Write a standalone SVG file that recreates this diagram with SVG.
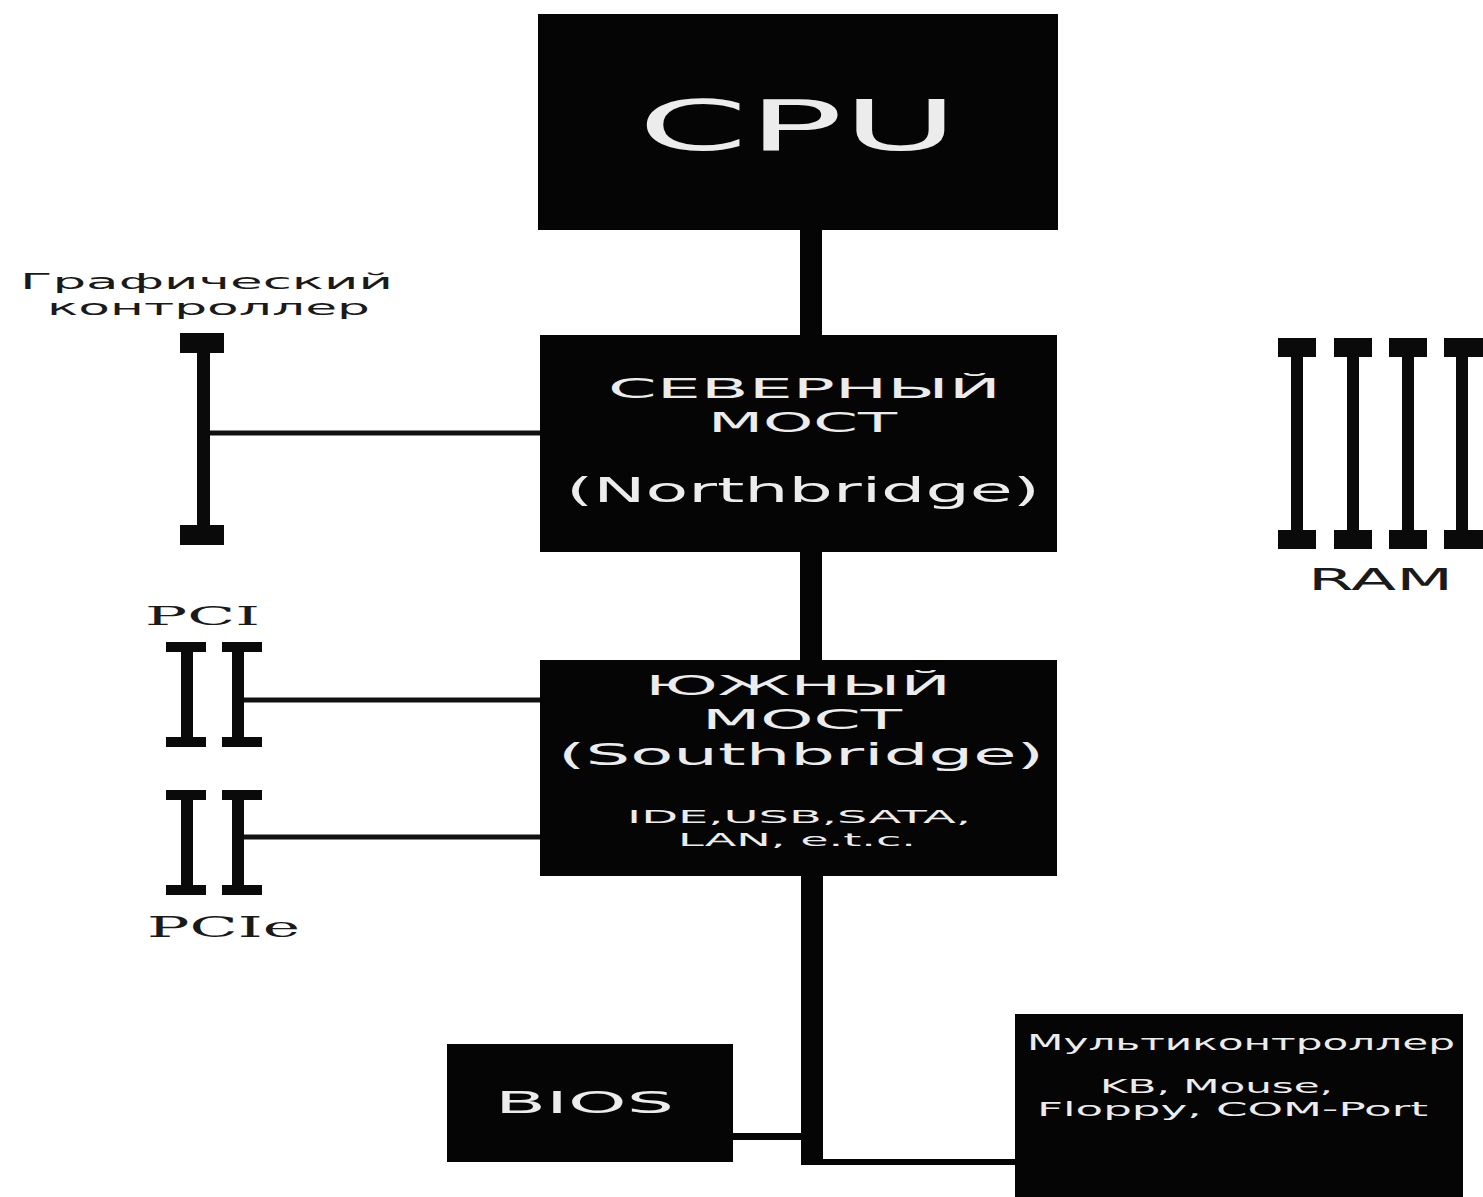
<svg xmlns="http://www.w3.org/2000/svg" width="1483" height="1197" viewBox="0 0 1483 1197">
<style>
.box{fill:#050505}
.wt{fill:#ececec;font-family:"DejaVu Sans","Verdana",sans-serif}
.bt{fill:#1a1a1a;font-family:"DejaVu Sans","Verdana",sans-serif}
.st{fill:#1a1a1a;font-family:"DejaVu Serif","Liberation Serif",serif}
.bus{stroke:#050505;stroke-width:22;fill:none}
.thin{stroke:#111;stroke-width:5;fill:none}
.slot{fill:#0a0a0a}
</style>
<rect width="1483" height="1197" fill="#ffffff"/>
<g id="connectors">
<line class="bus" x1="811" y1="228" x2="811" y2="338"/>
<line class="bus" x1="811" y1="550" x2="811" y2="662"/>
<line class="bus" x1="812" y1="874" x2="812" y2="1165"/>
<line class="thin" x1="203" y1="433" x2="541" y2="433"/>
<line class="thin" x1="244" y1="700" x2="541" y2="700"/>
<line class="thin" x1="244" y1="837" x2="541" y2="837"/>
<line x1="731" y1="1136.5" x2="802" y2="1136.5" stroke="#050505" stroke-width="7"/>
<line x1="812" y1="1162" x2="1017" y2="1162" stroke="#050505" stroke-width="6"/>
</g>
<g id="cpu">
<rect class="box" x="538" y="14" width="520" height="216"/>
<text class="wt" x="638" y="150" font-size="69" textLength="320" lengthAdjust="spacingAndGlyphs">CPU</text>
</g>
<g id="northbridge">
<rect class="box" x="540" y="335" width="517" height="217"/>
<text class="wt" x="608" y="398" font-size="27" textLength="393" lengthAdjust="spacingAndGlyphs">СЕВЕРНЫЙ</text>
<text class="wt" x="708" y="432" font-size="27" textLength="189" lengthAdjust="spacingAndGlyphs">МОСТ</text>
<text class="wt" x="566" y="502" font-size="33" textLength="474" lengthAdjust="spacingAndGlyphs">(Northbridge)</text>
</g>
<g id="southbridge">
<rect class="box" x="540" y="660" width="517" height="216"/>
<text class="wt" x="645" y="695" font-size="27" textLength="306" lengthAdjust="spacingAndGlyphs">ЮЖНЫЙ</text>
<text class="wt" x="702" y="729" font-size="26" textLength="200" lengthAdjust="spacingAndGlyphs">МОСТ</text>
<text class="wt" x="558" y="765" font-size="31" textLength="486" lengthAdjust="spacingAndGlyphs">(Southbridge)</text>
<text class="wt" x="627" y="823" font-size="18" textLength="344" lengthAdjust="spacingAndGlyphs">IDE,USB,SATA,</text>
<text class="wt" x="678" y="846" font-size="18" textLength="238" lengthAdjust="spacingAndGlyphs">LAN, e.t.c.</text>
</g>
<g id="bios">
<rect class="box" x="447" y="1044" width="286" height="118"/>
<text class="wt" x="495" y="1113" font-size="31" textLength="179" lengthAdjust="spacingAndGlyphs">BIOS</text>
</g>
<g id="multicontroller">
<rect class="box" x="1015" y="1014" width="448" height="190"/>
<text class="wt" x="1027" y="1050" font-size="22" textLength="428" lengthAdjust="spacingAndGlyphs">Мультиконтроллер</text>
<text class="wt" x="1100" y="1093" font-size="19" textLength="233" lengthAdjust="spacingAndGlyphs">KB, Mouse,</text>
<text class="wt" x="1037" y="1116" font-size="19" textLength="391" lengthAdjust="spacingAndGlyphs">Floppy, COM-Port</text>
</g>
<g id="graphics">
<text class="bt" x="20" y="289" font-size="22" textLength="373" lengthAdjust="spacingAndGlyphs">Графический</text>
<text class="bt" x="47" y="315" font-size="22" textLength="323" lengthAdjust="spacingAndGlyphs">контроллер</text>
<rect class="slot" x="197" y="343" width="13" height="192"/>
<rect class="slot" x="180" y="333" width="44" height="20"/>
<rect class="slot" x="180" y="525" width="44" height="20"/>
</g>
<g id="pci">
<text class="st" x="145" y="625" font-size="26" textLength="115" lengthAdjust="spacingAndGlyphs">PCI</text>
<rect class="slot" x="181" y="645" width="12" height="98"/>
<rect class="slot" x="166" y="642" width="40" height="10"/>
<rect class="slot" x="166" y="737" width="40" height="10"/>
<rect class="slot" x="232" y="645" width="12" height="98"/>
<rect class="slot" x="222" y="642" width="40" height="10"/>
<rect class="slot" x="222" y="737" width="40" height="10"/>
</g>
<g id="pcie">
<rect class="slot" x="181" y="793" width="12" height="98"/>
<rect class="slot" x="166" y="790" width="40" height="10"/>
<rect class="slot" x="166" y="885" width="40" height="10"/>
<rect class="slot" x="232" y="793" width="12" height="98"/>
<rect class="slot" x="222" y="790" width="40" height="10"/>
<rect class="slot" x="222" y="885" width="40" height="10"/>
<text class="st" x="147" y="937" font-size="28" textLength="153" lengthAdjust="spacingAndGlyphs">PCIe</text>
</g>
<g id="ram">
<rect class="slot" x="1291" y="345" width="12" height="195"/>
<rect class="slot" x="1278" y="338" width="38" height="19"/>
<rect class="slot" x="1278" y="530" width="38" height="19"/>
<rect class="slot" x="1347" y="345" width="12" height="195"/>
<rect class="slot" x="1334" y="338" width="38" height="19"/>
<rect class="slot" x="1334" y="530" width="38" height="19"/>
<rect class="slot" x="1402" y="345" width="12" height="195"/>
<rect class="slot" x="1389" y="338" width="38" height="19"/>
<rect class="slot" x="1389" y="530" width="38" height="19"/>
<rect class="slot" x="1456" y="345" width="12" height="195"/>
<rect class="slot" x="1444" y="338" width="39" height="19"/>
<rect class="slot" x="1444" y="530" width="39" height="19"/>
<text class="bt" x="1308" y="590" font-size="30" textLength="145" lengthAdjust="spacingAndGlyphs">RAM</text>
</g>
</svg>
